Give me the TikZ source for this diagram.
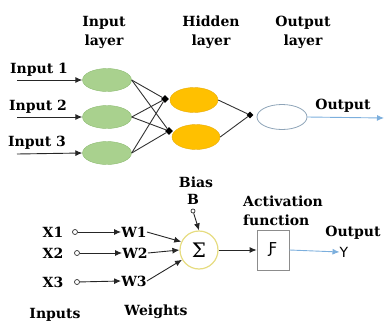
\documentclass[tikz,border=0pt]{standalone}
\usepackage{fontspec}
\setmainfont{DejaVu Serif}
\newfontfamily\sansf{DejaVu Sans}
\usetikzlibrary{arrows.meta,shapes.geometric}
\definecolor{greenfill}{HTML}{A9D18E}
\definecolor{greenline}{HTML}{8FBC74}
\definecolor{orangefill}{HTML}{FFC000}
\definecolor{orangeline}{HTML}{E8AE10}
\definecolor{outline}{HTML}{8EA4B8}
\definecolor{lblue}{HTML}{5B9BD5}
\definecolor{sigline}{HTML}{E6DC80}
\begin{document}
\begin{tikzpicture}[x=1pt,y=-1pt,
  lbl/.style={font=\bfseries\fontsize{14}{19}\selectfont, align=center, inner sep=0pt, text=black},
  greenell/.style={ellipse, draw=greenline, fill=greenfill, minimum width=49pt, minimum height=23pt, inner sep=0pt},
  orangeell/.style={ellipse, draw=orangeline, fill=orangefill, minimum width=48pt, minimum height=25pt, inner sep=0pt},
  junction/.style={diamond, fill=black, inner sep=0pt, minimum size=8pt},
  conn/.style={draw=black!80, line width=0.9pt},
  arr/.style={draw=black!85, line width=0.9pt, -{Latex[length=7pt,width=6pt]}},
  barr/.style={draw=lblue!80, line width=0.9pt, -{Latex[length=7pt,width=6pt]}},
  smallc/.style={circle, draw=black!80, line width=0.7pt, inner sep=0pt, minimum size=5pt}
]
\useasboundingbox (0,0) rectangle (384,322);

% ---------- top: network ----------
\node[lbl] (tin) at (104,32) {Input\\layer};
\node[lbl] (thid) at (211,32) {Hidden\\layer};
\node[lbl] (tout) at (303,32) {Output\\layer};

\node[lbl] (in1) at (39,70) {Input 1};
\node[lbl] (in2) at (38,107) {Input 2};
\node[lbl] (in3) at (37,143) {Input 3};

\coordinate (s1) at (17,80);
\coordinate (s2) at (17,117);
\coordinate (s3) at (17,154);

\node[greenell] (g1) at (107,80) {};
\node[greenell] (g2) at (107,117) {};
\node[greenell] (g3) at (107,153) {};

\draw[arr] (s1) -- (g1.west);
\draw[arr] (s2) -- (g2.west);
\draw[arr] (s3) -- (g3.west);

\node[orangeell] (h1) at (194,100) {};
\node[orangeell] (h2) at (196,137) {};

\node[junction] (j1) at (165,99) {};
\node[junction] (j2) at (169,131) {};

\foreach \g in {g1,g2,g3}{
  \draw[conn] (\g.east) -- (j1);
  \draw[conn] (\g.east) -- (j2);
}

\node[ellipse, draw=outline, line width=0.8pt, minimum width=50pt, minimum height=25pt, inner sep=0pt] (o1) at (282,117) {};
\node[junction, minimum size=7pt] (j3) at (250,115) {};
\draw[conn] (h1.east) -- (j3);
\draw[conn] (h2.east) -- (j3);

\coordinate (oe) at (384,118);
\draw[barr] (o1.east) -- (oe);
\node[lbl] (outlbl) at (343,106) {Output};

% ---------- bottom: neuron ----------
\node[lbl] (bias) at (196,182) {Bias};
\node[lbl] (bB) at (193,199) {B};
\node[smallc, minimum size=4pt] (bc) at (193,211) {};

\node[circle, draw=sigline, line width=1.2pt, minimum size=38pt, inner sep=0pt, font=\fontsize{20}{20}\selectfont] (sig) at (199,250) {Σ};
\draw[arr] (bc) -- (sig.north);

\node[draw=black!45, line width=0.7pt, minimum width=32pt, minimum height=40pt, inner sep=0pt, font=\sansf\fontsize{15}{15}\selectfont] (fbox) at (273,250) {Ƒ};
\draw[arr] (sig.east) -- (fbox.west);

\node[lbl, align=left, anchor=west] (act) at (243,211) {Activation\\function};

\node[lbl] (out2) at (353,233) {Output};
\node[font=\sansf\fontsize{14}{14}\selectfont, inner sep=0pt] (yy) at (344,252) {Y};
\draw[barr] (fbox.east) -- (yy.west);

\node[lbl] (x1) at (53,232) {X1};
\node[lbl] (x2) at (53,253) {X2};
\node[lbl] (x3) at (53,282) {X3};

\node[smallc] (c1) at (75,232) {};
\node[smallc] (c2) at (77,253) {};
\node[smallc] (c3) at (77,282) {};

\node[lbl] (w1) at (134,232) {W1};
\node[lbl] (w2) at (135,253) {W2};
\node[lbl] (w3) at (134,281) {W3};

\draw[arr] (c1) -- (w1.west);
\draw[arr] (c2) -- (w2.west);
\draw[arr] (c3) -- (w3.west);

\draw[arr] (w1.east) -- (sig.155);
\draw[arr] (w2.east) -- (sig.180);
\draw[arr] (w3.east) -- (sig.210);

\node[lbl] (inputs) at (55,315) {Inputs};
\node[lbl] (weights) at (156,312) {Weights};
\end{tikzpicture}
\end{document}
